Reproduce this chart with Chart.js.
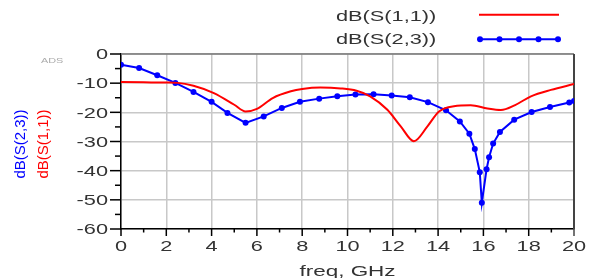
<!DOCTYPE html>
<html>
<head>
<meta charset="utf-8">
<script src="https://cdn.jsdelivr.net/npm/chart.js@4"></script>
<style>
  body { margin: 0; background: #fff; }
  canvas { display: block; }
</style>
</head>
<body>
<canvas id="chart" width="594" height="278"></canvas>
<script>
// S11 (red, smooth)
const freqS11 = [0, 1, 2, 2.5, 3.2, 4.1, 5.0, 5.5, 6.0, 6.7, 7.5, 8.0, 8.8, 9.7, 10.4, 11.0, 11.76, 12.35, 12.93, 13.53, 14.04, 14.7, 15.44, 16.18, 16.77, 17.4, 18.1, 18.98, 20]
const s11 = [-9.6, -9.7, -9.8, -9.9, -10.9, -13.4, -17.4, -19.7, -18.8, -15.1, -12.8, -12.0, -11.5, -11.8, -12.6, -14.5, -19.1, -24.8, -29.9, -24.8, -19.7, -17.9, -17.6, -18.7, -19.2, -17.5, -14.5, -12.3, -10.3]

// S23 (blue, with markers)
const freqS23 = [0, 0.8, 1.6, 2.4, 3.2, 4.0, 4.7, 5.5, 6.3, 7.1, 7.9, 8.75, 9.55, 10.35, 11.15, 11.95, 12.75, 13.55, 14.35, 14.96, 15.38, 15.62, 15.84, 15.93, 16.14, 16.25, 16.43, 16.73, 17.36, 18.13, 18.94, 19.79, 20]
const s23 = [-3.7, -4.8, -7.3, -9.9, -13.0, -16.4, -20.2, -23.6, -21.4, -18.5, -16.4, -15.3, -14.5, -13.9, -13.8, -14.2, -14.8, -16.5, -19.3, -23.1, -27.3, -32.6, -40.5, -51.0, -39.5, -35.4, -30.7, -26.7, -22.5, -19.9, -18.2, -16.6, -16.1]

const xTicks = [0, 2, 4, 6, 8, 10, 12, 14, 16, 18, 20]
const yTicks = [0, -10, -20, -30, -40, -50, -60]

const labelS11 = 'dB(S(1,1))'
const labelS23 = 'dB(S(2,3))'

const FONT = '"Liberation Sans", Arial, sans-serif'
const SX = 1.45

function stretchText(ctx, txt, x, y, align, size, color, sx) {
    ctx.save()
    ctx.font = size + 'px ' + FONT
    ctx.fillStyle = color
    ctx.textBaseline = 'alphabetic'
    ctx.textAlign = 'left'
    const w = ctx.measureText(txt).width * sx
    const left = align === 'right' ? x - w : align === 'center' ? x - w / 2 : x
    ctx.translate(left, y)
    ctx.scale(sx, 1)
    ctx.fillText(txt, 0, 0)
    ctx.restore()
}

const decorations = {
    id: 'decorations',
    beforeDatasetsDraw(chart) {
        const ctx = chart.ctx
        const a = chart.chartArea
        ctx.save()
        // top + right frame
        ctx.strokeStyle = '#777'
        ctx.lineWidth = 1.5
        ctx.beginPath()
        ctx.moveTo(a.left, a.top)
        ctx.lineTo(a.right, a.top)
        ctx.stroke()
        ctx.strokeStyle = '#444'
        ctx.lineWidth = 2
        ctx.beginPath()
        ctx.moveTo(a.right, a.top)
        ctx.lineTo(a.right, a.bottom)
        ctx.stroke()
        ctx.restore()
    },
    afterDraw(chart) {
        const ctx = chart.ctx
        const a = chart.chartArea
        const xs = chart.scales.x
        const ys = chart.scales.y
        ctx.save()
        ctx.strokeStyle = '#000'
        ctx.lineWidth = 1.5
        // y ticks
        for (let v = 0; v >= -60; v -= 5) {
            const py = ys.getPixelForValue(v)
            const len = v % 10 === 0 ? 11 : 6
            ctx.beginPath()
            ctx.moveTo(a.left - len, py)
            ctx.lineTo(a.left, py)
            ctx.stroke()
        }
        // x ticks
        for (let v = 0; v <= 20; v += 1) {
            const px = xs.getPixelForValue(v)
            const len = v % 2 === 0 ? 7 : 3.5
            ctx.strokeStyle = v === 20 ? '#444' : '#000'
            ctx.beginPath()
            ctx.moveTo(px, a.bottom)
            ctx.lineTo(px, a.bottom + len)
            ctx.stroke()
        }
        ctx.restore()

        // tick labels
        yTicks.forEach(v => {
            stretchText(ctx, String(v), 108, ys.getPixelForValue(v) + 5.3, 'right', 15, '#333', SX)
        })
        xTicks.forEach(v => {
            stretchText(ctx, String(v), xs.getPixelForValue(v), 250.5, 'center', 15, '#333', SX)
        })

        // axis titles
        stretchText(ctx, 'freq, GHz', 347.5, 276, 'center', 15.5, '#333', SX)
        ctx.save()
        ctx.font = '15px ' + FONT
        ctx.textAlign = 'center'
        ctx.textBaseline = 'middle'
        ctx.translate(21, 144)
        ctx.rotate(-Math.PI / 2)
        ctx.fillStyle = '#0000ff'
        ctx.fillText(labelS23, 0, 0)
        ctx.restore()
        ctx.save()
        ctx.font = '15px ' + FONT
        ctx.textAlign = 'center'
        ctx.textBaseline = 'middle'
        ctx.translate(44, 144)
        ctx.rotate(-Math.PI / 2)
        ctx.fillStyle = '#ff0000'
        ctx.fillText(labelS11, 0, 0)
        ctx.restore()

        // ADS mark
        stretchText(ctx, 'ADS', 41, 63, 'left', 7.5, '#aaa', SX)

        // legend
        stretchText(ctx, labelS11, 336, 21, 'left', 15, '#333', SX)
        stretchText(ctx, labelS23, 336, 43.5, 'left', 15, '#333', SX)
        ctx.save()
        ctx.lineWidth = 2
        ctx.strokeStyle = '#ff0000'
        ctx.beginPath()
        ctx.moveTo(479, 14.7)
        ctx.lineTo(559, 14.7)
        ctx.stroke()
        ctx.strokeStyle = '#0000ff'
        ctx.beginPath()
        ctx.moveTo(480, 39.3)
        ctx.lineTo(558, 39.3)
        ctx.stroke()
        ctx.fillStyle = '#0000ff'
        ;[480, 499.5, 519, 538.5, 558].forEach(px => {
            ctx.beginPath()
            ctx.arc(px, 39.3, 3, 0, Math.PI * 2)
            ctx.fill()
        })
        ctx.restore()
    }
}

const ctx = document.getElementById('chart').getContext('2d')
new Chart(ctx, {
    type: 'line',
    data: {
        datasets: [{
            label: labelS11,
            data: freqS11.map((f, i) => ({ x: f, y: s11[i] })),
            borderColor: '#ff0000',
            borderWidth: 2,
            pointRadius: 0,
            cubicInterpolationMode: 'monotone',
            fill: false
        }, {
            label: labelS23,
            data: freqS23.map((f, i) => ({ x: f, y: s23[i] })),
            borderColor: '#0000ff',
            backgroundColor: '#0000ff',
            borderWidth: 2,
            pointRadius: 3,
            pointBorderWidth: 0,
            tension: 0,
            fill: false
        }]
    },
    options: {
        responsive: false,
        animation: false,
        layout: { padding: { top: 54, right: 20, bottom: 0, left: 0 } },
        plugins: { legend: { display: false }, tooltip: { enabled: false } },
        scales: {
            x: {
                type: 'linear',
                min: 0,
                max: 20,
                afterFit: s => { s.height = 49 },
                ticks: { display: false, stepSize: 2 },
                grid: { color: '#c8c8c8', lineWidth: 1.5, drawTicks: false },
                border: { display: true, color: '#000', width: 1.5 }
            },
            y: {
                min: -60,
                max: 0,
                afterFit: s => { s.width = 121 },
                ticks: { display: false, stepSize: 10 },
                grid: { color: '#c8c8c8', lineWidth: 1.5, drawTicks: false },
                border: { display: true, color: '#000', width: 1.5 }
            }
        }
    },
    plugins: [decorations]
})
</script>
</body>
</html>
